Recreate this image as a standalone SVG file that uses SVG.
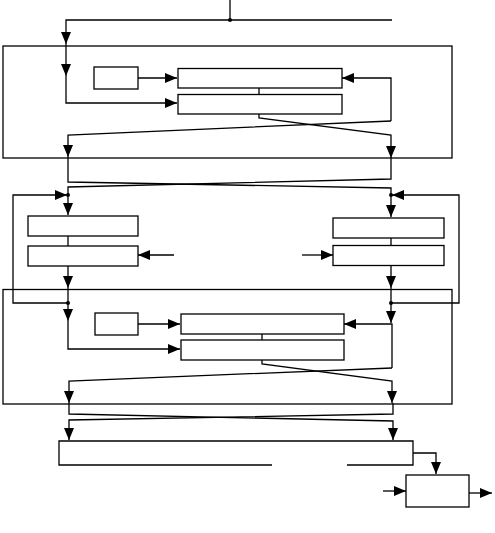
<svg xmlns="http://www.w3.org/2000/svg" width="495" height="533" viewBox="0 0 495 533">
<style>
.n{fill:none;stroke:#000;stroke-width:1.3}
.c{fill:none;stroke:#000;stroke-width:1.3}
.a{marker-end:url(#arr)}
.d{fill:#000}
</style>
<defs>
<marker id="arr" viewBox="0 0 12 10" refX="12" refY="5" markerWidth="12" markerHeight="10" markerUnits="userSpaceOnUse" orient="auto">
<path d="M0,0 L12,5 L0,10 z" fill="#000"/>
</marker>
</defs>
<rect width="495" height="533" fill="#fff"/>
<g id="outer1"><rect class="n" x="3" y="46" width="449" height="112"/></g>
<g id="small1"><rect class="n" x="94" y="67" width="44" height="22"/></g>
<g id="boxA"><rect class="n" x="178" y="68.5" width="164" height="19.5"/></g>
<g id="boxB"><rect class="n" x="178" y="94.5" width="164" height="19.5"/></g>
<g id="boxC"><rect class="n" x="28" y="216" width="110" height="20"/></g>
<g id="boxD"><rect class="n" x="28" y="246" width="110" height="20"/></g>
<g id="boxE"><rect class="n" x="333" y="218" width="111" height="20"/></g>
<g id="boxF"><rect class="n" x="333" y="245.5" width="111" height="20"/></g>
<g id="outer2"><rect class="n" x="3" y="289.5" width="449" height="114.5"/></g>
<g id="small2"><rect class="n" x="95" y="313" width="43" height="22"/></g>
<g id="boxG"><rect class="n" x="181" y="314" width="163" height="20"/></g>
<g id="boxH"><rect class="n" x="181" y="340" width="163" height="20"/></g>
<g id="bottomBox"><path class="n" d="M272,465 H59 V441 H413 V465 H347"/></g>
<g id="finalBox"><rect class="n" x="406" y="475" width="63" height="32"/></g>
<g id="connectors">
<path class="c" d="M230,0 V20"/>
<path class="c a" d="M392,20 H66 V44"/>
<path class="c a" d="M66,44 V76"/>
<path class="c a" d="M66,76 V103 H177"/>
<path class="c a" d="M138,78 H177"/>
<path class="c" d="M259,88 V94.5"/>
<path class="c a" d="M391,121 V78 H342"/>
<path class="c a" d="M391,121 L68,135 V157"/>
<path class="c a" d="M259,114 V118 L391,135 V158"/>
<path class="c a" d="M68,157 V182 L391,188 V217"/>
<path class="c a" d="M391,158 V179 L68,187 V215"/>
<path class="c a" d="M68,303 H13 V195 H67"/>
<path class="c a" d="M391,303 H459 V195 H392"/>
<path class="c" d="M68,236 V246"/>
<path class="c a" d="M174,255 H138"/>
<path class="c a" d="M68,266 V288"/>
<path class="c a" d="M68,288 V321"/>
<path class="c a" d="M68,321 V349 H180"/>
<path class="c" d="M391,238 V245.5"/>
<path class="c a" d="M302,255 H333"/>
<path class="c a" d="M391,265.5 V288"/>
<path class="c a" d="M391,288 V323"/>
<path class="c a" d="M392,368 V324 H344"/>
<path class="c a" d="M138,324 H180"/>
<path class="c" d="M262,334 V340"/>
<path class="c a" d="M392,368 L69,381 V403"/>
<path class="c a" d="M262,360 V364 L392,381 V403"/>
<path class="c a" d="M69,403 V414 L393,421 V440"/>
<path class="c a" d="M393,403 V414 L69,420 V440"/>
<path class="c a" d="M413,453 H436 V474"/>
<path class="c a" d="M383,491 H406"/>
<path class="c a" d="M469,493 H492"/>
<circle class="d" cx="230" cy="20" r="2"/>
<circle class="d" cx="68" cy="195" r="2"/>
<circle class="d" cx="391" cy="195" r="2"/>
<circle class="d" cx="68" cy="303" r="2"/>
<circle class="d" cx="391" cy="303" r="2"/>
</g>
</svg>
